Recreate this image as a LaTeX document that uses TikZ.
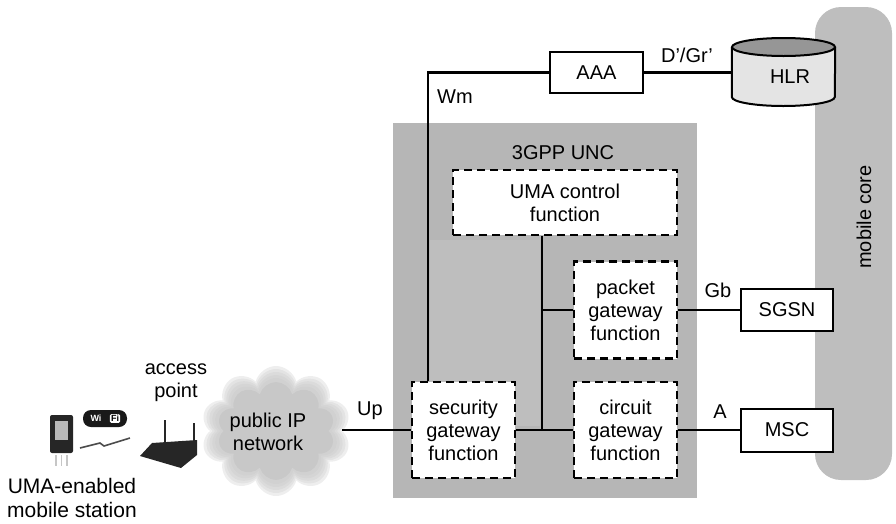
\documentclass[tikz,border=0pt]{standalone}
\usepackage{fontspec}
\setmainfont{Liberation Sans}
\usetikzlibrary{shapes.geometric,shapes.symbols,calc}

\definecolor{uncgray}{RGB}{182,182,182}
\definecolor{uncstrip}{RGB}{190,190,190}
\definecolor{coregray}{RGB}{190,190,190}
\definecolor{cloudgray}{RGB}{200,200,200}
\definecolor{hlrtop}{RGB}{150,150,150}
\definecolor{hlrbody}{RGB}{228,228,228}

\tikzset{
  txt/.style={font=\fontsize{20}{23}\selectfont, align=center, inner sep=0pt},
  solidbox/.style={txt, draw, line width=2pt, fill=white},
  fnbox/.style={txt, draw, line width=2.8pt, dash pattern=on 8pt off 5pt, fill=white},
  link/.style={line width=2.4pt},
  lbl/.style={txt},
  puff/.style={cloud, cloud puffs=10, aspect=1.2, fill=cloudgray, opacity=0.3},
}

\begin{document}
\begin{tikzpicture}[x=1pt,y=-1pt]
\useasboundingbox (0,0) rectangle (896,523);

% mobile core column
\node[fill=coregray, rounded corners=26pt, minimum width=77pt, minimum height=473pt] (core) at (853.5,243.5) {};
\node[txt, rotate=90] (corelbl) at (864,217) {mobile core};

% UNC enclosure
\node[fill=uncgray, minimum width=304pt, minimum height=375pt] (unc) at (545,310.5) {};
\fill[uncstrip] (430,240) rectangle (540,426);
\node[lbl] (unclbl) at (563,153) {3GPP UNC};

% UNC functions
\node[fnbox, minimum width=224pt, minimum height=65pt] (uma) at (565,202.5) {UMA control\\function};
\node[fnbox, minimum width=103pt, minimum height=97pt] (pkt) at (625.5,310) {packet\\gateway\\function};
\node[fnbox, minimum width=103pt, minimum height=96pt] (cir) at (625.5,430) {circuit\\gateway\\function};
\node[fnbox, minimum width=103pt, minimum height=96pt] (sec) at (463.5,430) {security\\gateway\\function};

% core network elements
\node[solidbox, minimum width=93pt, minimum height=41pt] (aaa) at (596.5,72.5) {AAA};
\node[solidbox, minimum width=92pt, minimum height=42pt] (sgsn) at (787,310) {SGSN};
\node[solidbox, minimum width=92pt, minimum height=43pt] (msc) at (787,430) {MSC};

% HLR database drum
\node[minimum width=103pt, minimum height=68pt, inner sep=0pt] (hlr) at (783.5,72) {};
\path[fill=hlrbody, draw, line width=2pt] (hlr.west |- 0,47) -- (hlr.west |- 0,97)
  arc[start angle=180, end angle=0, x radius=51.5, y radius=9] -- (hlr.east |- 0,47);
\draw[fill=hlrtop, line width=2pt] (783.5,47) ellipse[x radius=51.5, y radius=9];
\node[txt] (hlrlbl) at (790,77) {HLR};

% public IP network cloud, soft edged
\node[puff, minimum width=150pt, minimum height=130pt] (cloud1) at (276,431) {};
\node[puff, minimum width=144pt, minimum height=124pt] (cloud2) at (276,431) {};
\node[puff, minimum width=138pt, minimum height=118pt] (cloud3) at (276,431) {};
\node[puff, minimum width=132pt, minimum height=112pt] (cloud4) at (276,431) {};
\node[puff, minimum width=126pt, minimum height=106pt] (cloud5) at (276,431) {};
\node[puff, opacity=1, minimum width=118pt, minimum height=98pt] (cloud) at (276,431) {};
\node[txt] (cloudlbl) at (268,432) {public IP\\network};

% connectors
\coordinate (wm) at (428,0);
\coordinate (bus) at (542,0);
\draw[link] (aaa.west) -| (wm |- sec.north);
\draw[link] (aaa.east) -- (aaa.east -| hlr.west);
\draw[link] (uma.south -| bus) -- (bus |- sec.east);
\draw[link] (sec.east) -- (cir.west);
\draw[link] (bus |- pkt.west) -- (pkt.west);
\draw[link] (pkt.east) -- (sgsn.west);
\draw[link] (cir.east) -- (msc.west);
\draw[link] (cloud1.east |- sec.west) -- (sec.west);

% interface labels
\node[lbl] (lwm) at (455,97) {Wm};
\node[lbl] (ldg) at (687,55) {D'/Gr'};
\node[lbl] (lgb) at (718,290) {Gb};
\node[lbl] (la) at (720,412) {A};
\node[lbl] (lup) at (370,411) {Up};

% mobile station
\fill[black!85, rounded corners=2pt] (50,415) rectangle (73,453);
\fill[gray!55] (55,421) rectangle (68,440);
\draw[gray!45, line width=1.2pt] (56,455) -- (56,466) (61.5,455) -- (61.5,466) (67,455) -- (67,466);
\fill[black!90, rounded corners=8pt] (83,410) rectangle (127,427);
\node[font=\fontsize{9}{9}\bfseries\selectfont, text=white, inner sep=0pt] (wi) at (96,418.5) {Wi};
\node[font=\fontsize{9}{9}\bfseries\selectfont, fill=white, rounded corners=1.5pt, inner sep=1.2pt] (fi) at (115,418.5) {Fi};
\draw[black!70, line width=1.6pt] (80,448) -- (100,443) -- (104,446) -- (130,438);
\node[txt, font=\fontsize{21}{24}\selectfont] (mslbl) at (72,498) {UMA-enabled\\mobile station};

% access point
\fill[black!85] (140,456) -- (152,443) -- (197,440) -- (197,455) -- (181,468) -- cycle;
\draw[black!85, line width=2pt] (165,420) -- (165,447) (194,423) -- (194,450);
\node[txt] (aplbl) at (176,383) {access\\point};

\end{tikzpicture}
\end{document}
